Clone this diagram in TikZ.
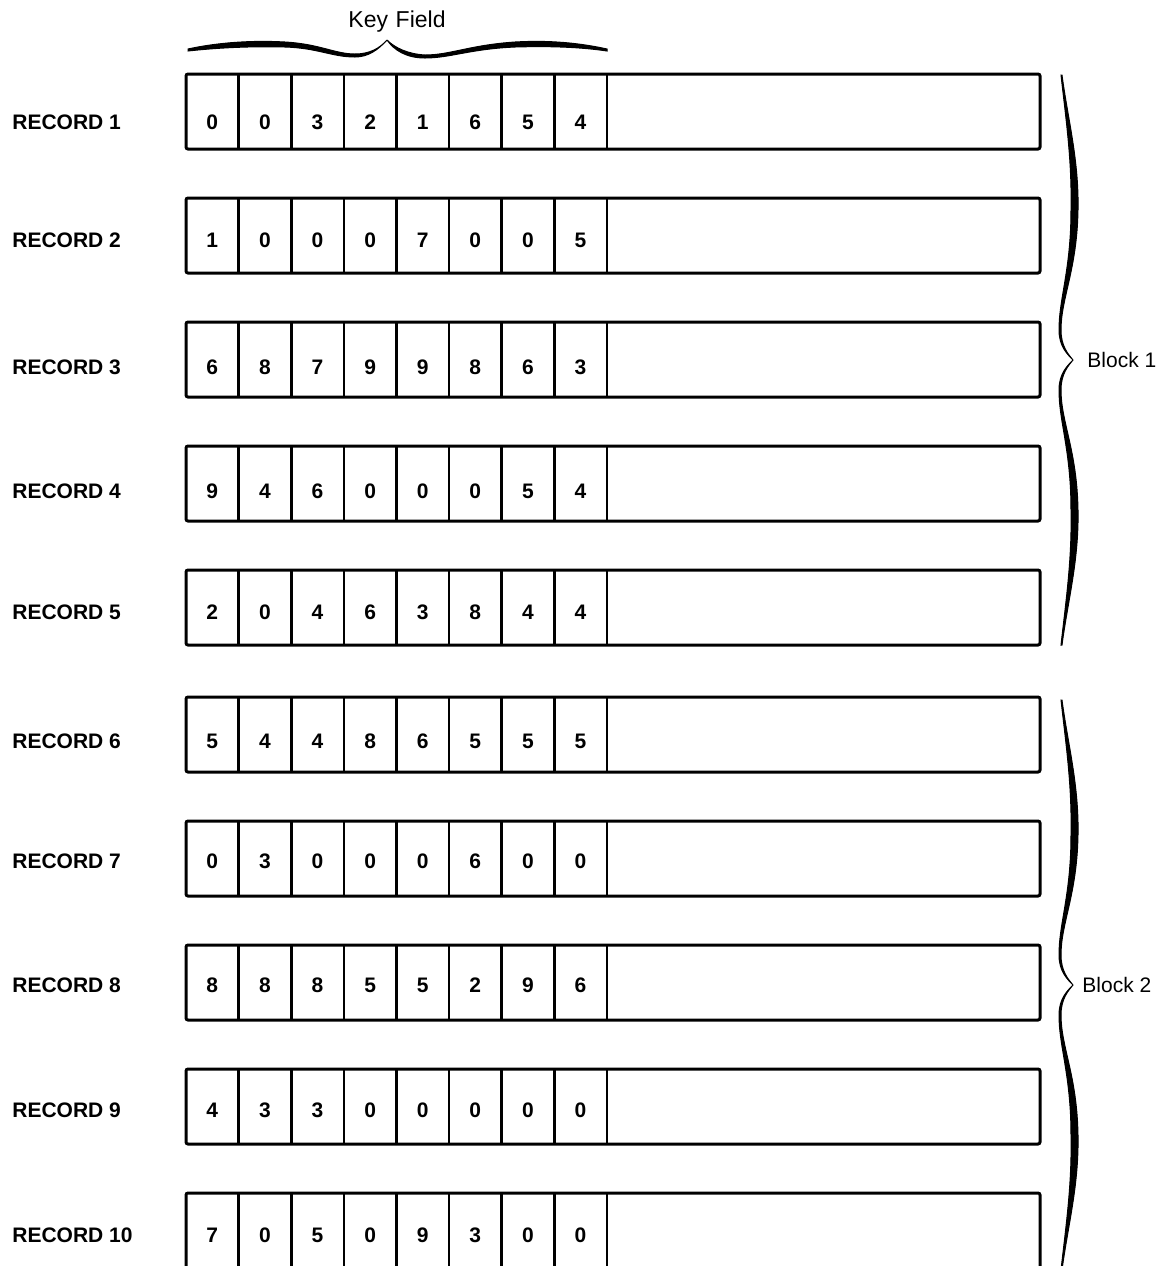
\documentclass[tikz,border=0pt]{standalone}
\usepackage{fontspec}
\setmainfont{Liberation Sans}
\usetikzlibrary{positioning}

\begin{document}
\begin{tikzpicture}[x=0.5pt, y=-0.5pt,
  recbox/.style={line width=1.5pt, rounded corners=1pt},
  celldiv/.style={line width=1.3pt},
  reclabel/.style={anchor=west, inner sep=0pt, font=\fontsize{10.5}{12}\selectfont\bfseries},
  keydigit/.style={inner sep=0pt, font=\fontsize{10.5}{12}\selectfont\bfseries},
  bracefill/.style={line width=0.5pt, fill=black}]
  \useasboundingbox (0,0) rectangle (1163,1266);
  \clip (0,0) rectangle (1163,1266);

  % Records: top / text line / height / key digits
  \foreach \ytop/\ytxt/\hgt/\keys [count=\r] in {
      74/122/75/{0,0,3,2,1,6,5,4},
      198/240/75/{1,0,0,0,7,0,0,5},
      322/367/75/{6,8,7,9,9,8,6,3},
      446/491/75/{9,4,6,0,0,0,5,4},
      570/612/75/{2,0,4,6,3,8,4,4},
      697/741/75/{5,4,4,8,6,5,5,5},
      821/861/75/{0,3,0,0,0,6,0,0},
      945/985/75/{8,8,8,5,5,2,9,6},
      1069/1110/75/{4,3,3,0,0,0,0,0},
      1193/1235/110/{7,0,5,0,9,3,0,0}} {
    \draw[recbox] (186,\ytop) rectangle (1040,\ytop+\hgt);
    \foreach \k in {1,...,8}
      \draw[celldiv] ({186+52.6*\k},\ytop) -- ({186+52.6*\k},\ytop+\hgt);
    \node[reclabel] (rec\r) at (12,\ytxt) {RECORD \r};
    \foreach \d [count=\c] in \keys
      \node[keydigit] (key\r-\c) at ({186+52.6*\c-26.3},\ytxt) {\d};
  }

  % Key field brace
  \node[font=\fontsize{11.5}{13}\selectfont] (keyfield) at (397,22) {Key\,\,Field};
  \filldraw[bracefill] (188,49) .. controls (215,43) and (250,40) .. (285,42)
    .. controls (320,44) and (335,54) .. (355,54)
    .. controls (370,54) and (380,48) .. (387,40)
    .. controls (378,50) and (368,57) .. (355,57)
    .. controls (332,57) and (318,48) .. (285,47)
    .. controls (250,46) and (215,48) .. (188,51) -- cycle;
  \filldraw[bracefill] (387,40) .. controls (395,48) and (408,54) .. (425,55)
    .. controls (450,55) and (470,45) .. (515,42)
    .. controls (550,40) and (580,43) .. (607,49)
    -- (607,51) .. controls (580,47) and (550,46) .. (515,47)
    .. controls (470,49) and (450,58) .. (425,58)
    .. controls (406,58) and (394,50) .. (387,40) -- cycle;

  % Block braces
  \foreach \tipy in {360,985}
    \foreach \s in {1,-1} {
      \begin{scope}[shift={(1073,\tipy)}, yscale=\s]
        \filldraw[bracefill] (-11,-285) .. controls (-5,-240) and (6,-200) .. (5,-150)
          .. controls (4,-90) and (-12,-62) .. (-12,-30)
          .. controls (-12,-14) and (-5,-6) .. (0,0)
          .. controls (-6,-6) and (-14,-14) .. (-14,-30)
          .. controls (-14,-62) and (-2,-90) .. (-2,-150)
          .. controls (-1,-200) and (-7,-240) .. (-12,-285) -- cycle;
      \end{scope}
    }
  \node[anchor=west, inner sep=0pt, font=\fontsize{10.5}{12}\selectfont] (block1) at (1087,360) {Block 1};
  \node[anchor=west, inner sep=0pt, font=\fontsize{10.5}{12}\selectfont] (block2) at (1082,985) {Block 2};
\end{tikzpicture}
\end{document}
